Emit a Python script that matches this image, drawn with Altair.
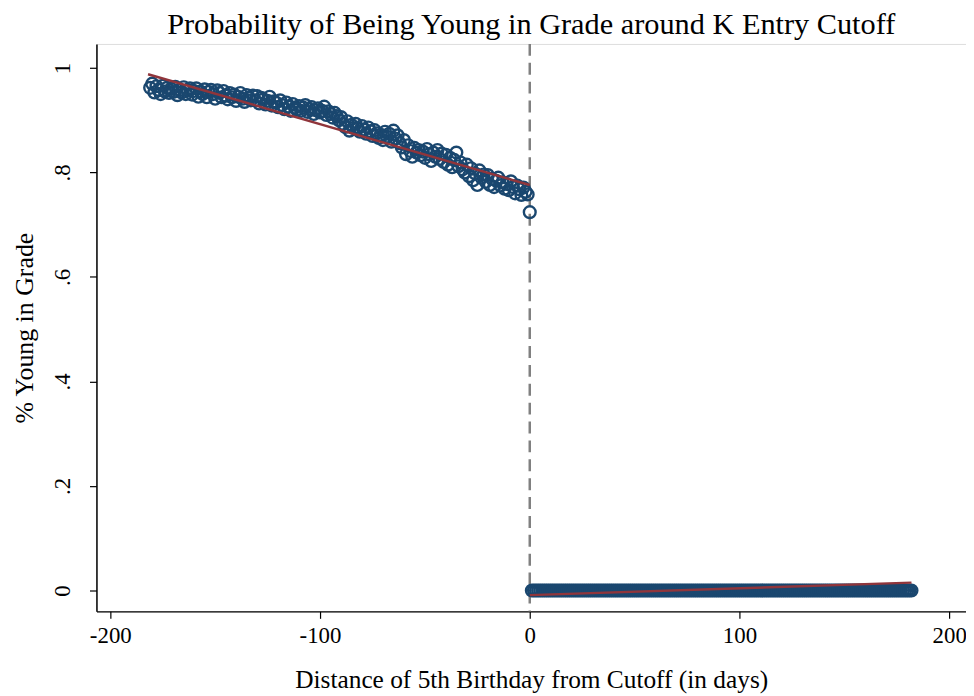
import altair as alt
import pandas as pd

# Days relative to the cutoff (left of cutoff: -181..0, right: 1..182)
left_days = list(range(-181, 1))
left_share = [
    0.962, 0.970, 0.953, 0.965, 0.958, 0.950, 0.966, 0.955, 0.962, 0.952,
    0.960, 0.954, 0.964, 0.948, 0.958, 0.953, 0.963, 0.950, 0.957, 0.961,
    0.949, 0.956, 0.961, 0.945, 0.955, 0.950, 0.959, 0.944, 0.954, 0.958,
    0.950, 0.941, 0.957, 0.952, 0.944, 0.956, 0.947, 0.940, 0.952, 0.944,
    0.949, 0.937, 0.945, 0.952, 0.941, 0.935, 0.948, 0.943, 0.938, 0.947,
    0.938, 0.946, 0.932, 0.943, 0.940, 0.930, 0.937, 0.945, 0.928, 0.936,
    0.934, 0.925, 0.938, 0.929, 0.921, 0.934, 0.926, 0.918, 0.931, 0.924,
    0.920, 0.927, 0.918, 0.924, 0.929, 0.916, 0.921, 0.925, 0.912, 0.919,
    0.923, 0.915, 0.918, 0.926, 0.910, 0.917, 0.912, 0.905, 0.914, 0.908,
    0.900, 0.906, 0.893, 0.887, 0.898, 0.880, 0.891, 0.885, 0.893, 0.884,
    0.878, 0.889, 0.882, 0.874, 0.886, 0.879, 0.870, 0.881, 0.875, 0.866,
    0.872, 0.862, 0.878, 0.868, 0.874, 0.859, 0.880, 0.865, 0.871, 0.856,
    0.848, 0.862, 0.835, 0.852, 0.841, 0.830, 0.847, 0.838, 0.843, 0.833,
    0.840, 0.828, 0.845, 0.835, 0.822, 0.838, 0.830, 0.843, 0.826, 0.836,
    0.820, 0.834, 0.815, 0.828, 0.810, 0.824, 0.838, 0.812, 0.819, 0.806,
    0.800, 0.815, 0.793, 0.808, 0.785, 0.798, 0.776, 0.804, 0.790, 0.796,
    0.782, 0.795, 0.776, 0.788, 0.772, 0.784, 0.790, 0.775, 0.781, 0.769,
    0.778, 0.766, 0.783, 0.772, 0.760, 0.775, 0.768, 0.757, 0.771, 0.763,
    0.758, 0.724,
]
right_days = list(range(1, 183))
right_share = [0.0] * len(right_days)

# Linear fit lines (endpoints)
fit_left_x = [-182, 0]
fit_left_y = [0.988, 0.776]
fit_right_x = [0, 182]
fit_right_y = [-0.009, 0.015]

y_ticks = [0, 0.2, 0.4, 0.6, 0.8, 1]
x_ticks = [-200, -100, 0, 100, 200]

FONT = "Liberation Serif"
NAVY = "#1a476f"
MAROON = "#90353b"

pts = pd.DataFrame({
    "x": left_days + right_days,
    "y": left_share + right_share,
})
fits = pd.DataFrame({
    "x": fit_left_x + fit_right_x,
    "y": fit_left_y + fit_right_y,
    "seg": ["left", "left", "right", "right"],
})
cut = pd.DataFrame({"x": [0]})

xscale = alt.Scale(domain=[-206.6, 208], nice=False, zero=False)
yscale = alt.Scale(domain=[-0.04, 1.046], nice=False, zero=False)

xaxis = alt.Axis(
    values=x_ticks, title="Distance of 5th Birthday from Cutoff (in days)",
    labelExpr="datum.value < 0 ? '-' + abs(datum.value) : '' + datum.value",
    grid=False, labelFont=FONT, labelFontSize=23, labelColor="black",
    titleFont=FONT, titleFontSize=25.5, titleFontWeight="normal", titleColor="black",
    tickColor="black", tickSize=7, tickWidth=1.2, domainColor="black", domainWidth=1.5,
    labelPadding=6, titlePadding=21, labelFlush=False,
)
yaxis = alt.Axis(
    values=y_ticks, title="% Young in Grade",
    labelExpr="datum.value == 0 ? '0' : datum.value >= 1 ? '1' : '.' + round(datum.value*10)",
    grid=False, labelFont=FONT, labelFontSize=23, labelColor="black",
    labelAngle=270, labelAlign="center", labelBaseline="bottom",
    titleFont=FONT, titleFontSize=26, titleFontWeight="normal", titleColor="black",
    tickColor="black", tickSize=7, tickWidth=1.2, domainColor="black", domainWidth=1.5,
    labelPadding=15, titlePadding=14, labelFlush=False,
)

rule = alt.Chart(cut).mark_rule(
    color="#808080", strokeWidth=2.5, strokeDash=[12, 7]
).encode(x=alt.X("x:Q", scale=xscale, axis=xaxis))

scatter = alt.Chart(pts).mark_point(
    shape="circle", filled=False, size=140, strokeWidth=2.4, color=NAVY, opacity=1
).encode(
    x=alt.X("x:Q", scale=xscale, axis=xaxis),
    y=alt.Y("y:Q", scale=yscale, axis=yaxis),
)

lines = alt.Chart(fits).mark_line(color=MAROON, strokeWidth=2.4).encode(
    x=alt.X("x:Q", scale=xscale, axis=xaxis),
    y=alt.Y("y:Q", scale=yscale, axis=yaxis),
    detail="seg:N",
)

chart = alt.layer(rule, scatter, lines).properties(
    width=875, height=571,
    title=alt.TitleParams(
        "Probability of Being Young in Grade around K Entry Cutoff",
        font=FONT, fontSize=30.5, fontWeight="normal", color="black",
        anchor="middle", offset=2,
    ),
    autosize=alt.AutoSizeParams(type="none"),
    padding={"left": 89, "top": 34, "right": 0, "bottom": 83},
).configure_view(stroke=None).configure(background="white")

chart.save("out.html", embed_options={"renderer": "svg", "actions": False})
